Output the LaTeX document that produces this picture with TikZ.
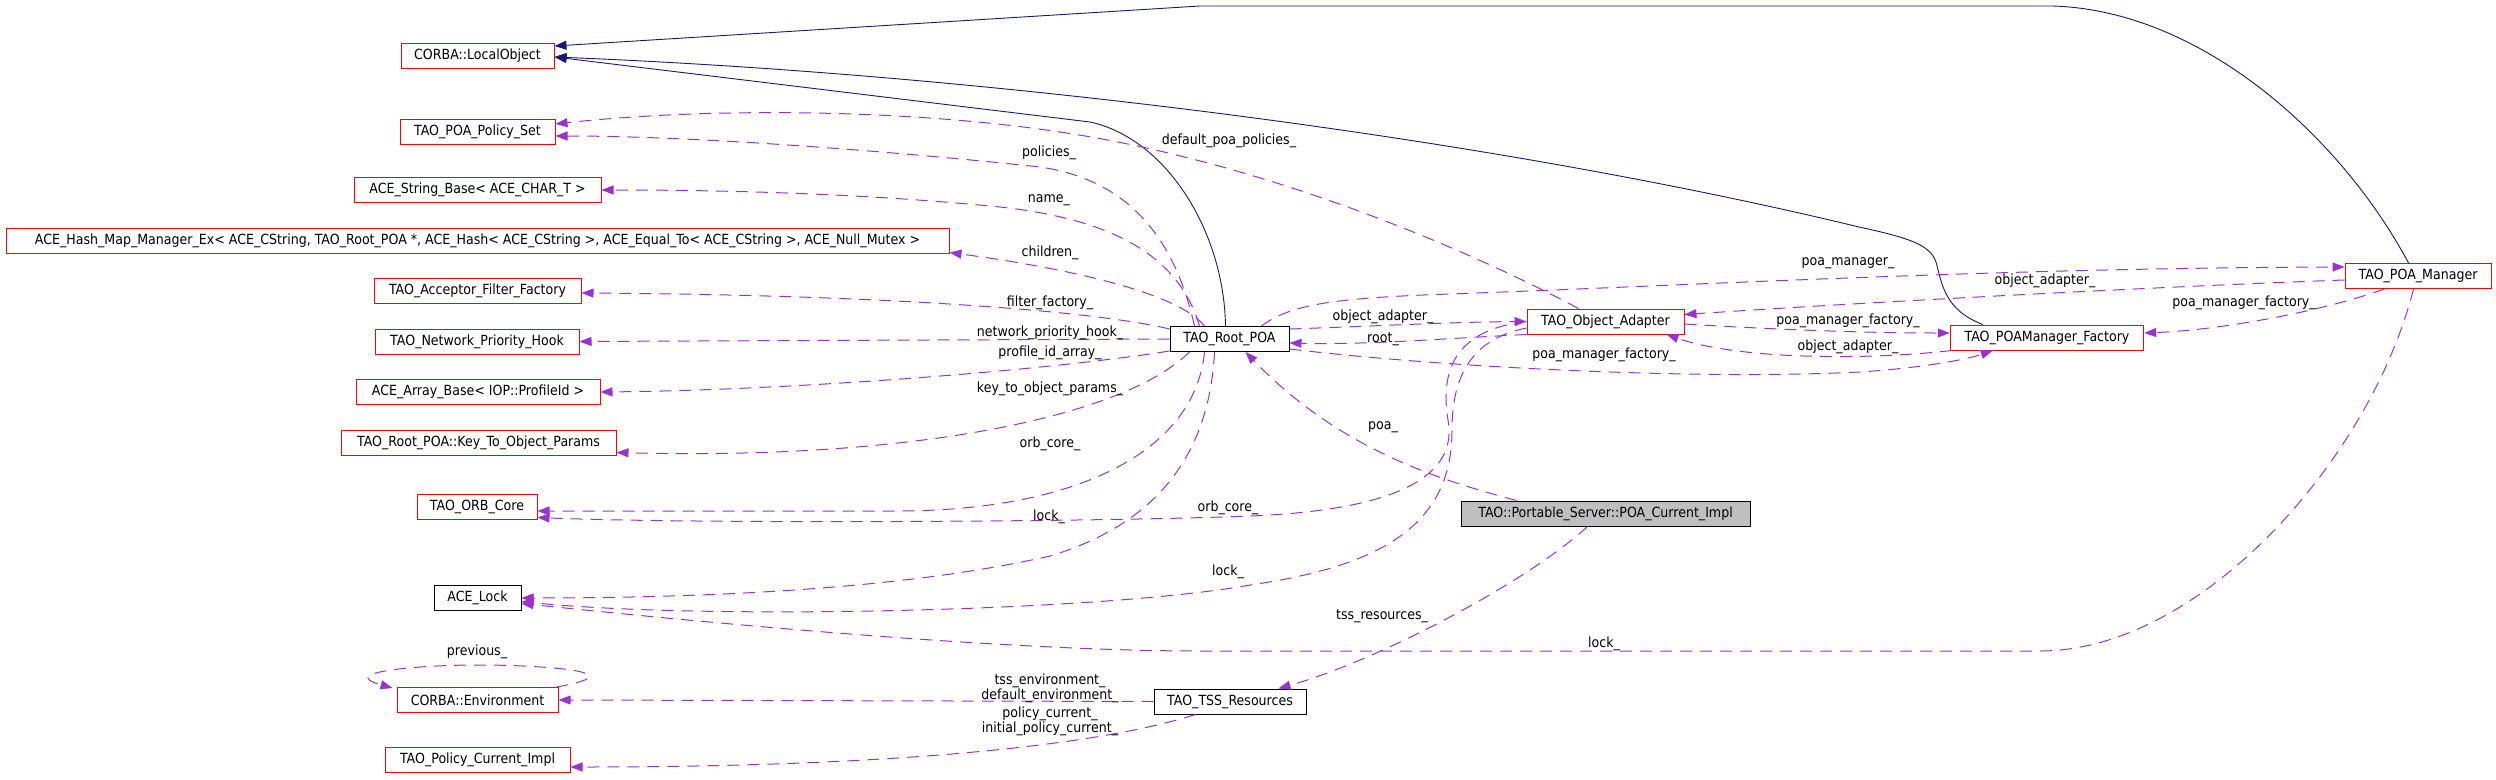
\documentclass[tikz,border=0pt]{standalone}
\usepackage{fontspec}
\setmainfont{DejaVu Sans}[FakeStretch=0.9]
\usepackage{tikz}
\usetikzlibrary{shapes,arrows,positioning,calc,arrows.meta}
\definecolor{usecol}{HTML}{9A32CD}
\definecolor{inhcol}{HTML}{191970}
\definecolor{curfill}{HTML}{BFBFBF}

\begin{document}
\begin{tikzpicture}[x=1pt, y=-1pt, font=\fontsize{14}{15}\selectfont,
    clsbox/.style={draw, line width=1pt, minimum height=25pt, inner xsep=3pt, inner ysep=0pt, minimum width=#1pt},
    cls/.style={clsbox=#1, draw=red},
    clsb/.style={clsbox=#1, draw=black},
    lbl/.style={inner sep=0pt, align=center},
    uses/.style={draw=usecol, line width=1pt, dash pattern=on 12pt off 8pt, -{Triangle[length=12pt,width=9pt]}},
    inh/.style={draw=inhcol, line width=0.9pt, -{Triangle[length=12pt,width=9pt]}}]
    \useasboundingbox (0,0) rectangle (2496,779);

    % left column
    \node [cls=153] (lobj) at (477.5,56) {CORBA::LocalObject};
    \node [cls=155] (pset) at (477.5,132) {TAO\_POA\_Policy\_Set};
    \node [cls=247] (sbase) at (477.5,190) {ACE\_String\_Base< ACE\_CHAR\_T >};
    \node [cls=943] (hmap) at (477.5,240.5) {ACE\_Hash\_Map\_Manager\_Ex< ACE\_CString, TAO\_Root\_POA *, ACE\_Hash< ACE\_CString >, ACE\_Equal\_To< ACE\_CString >, ACE\_Null\_Mutex >};
    \node [cls=207] (aff) at (477.5,290.5) {TAO\_Acceptor\_Filter\_Factory};
    \node [cls=204] (nph) at (477,341.5) {TAO\_Network\_Priority\_Hook};
    \node [cls=244] (abase) at (478,392) {ACE\_Array\_Base< IOP::ProfileId >};
    \node [cls=275] (ktop) at (478.5,442.5) {TAO\_Root\_POA::Key\_To\_Object\_Params};
    \node [cls=120] (orb) at (477,506.5) {TAO\_ORB\_Core};
    \node [clsb=87] (lock) at (477.5,597.5) {ACE\_Lock};
    \node [cls=161] (env) at (477.5,700) {CORBA::Environment};
    \node [cls=185] (pci) at (477.5,760) {TAO\_Policy\_Current\_Impl};

    % middle and right
    \node [clsb=119] (rpoa) at (1229.5,339) {TAO\_Root\_POA};
    \node [cls=157] (oad) at (1605.5,321.5) {TAO\_Object\_Adapter};
    \node [cls=193.5] (pmf) at (2047,337.5) {TAO\_POAManager\_Factory};
    \node [cls=146] (pm) at (2418,276) {TAO\_POA\_Manager};
    \node [clsb=289, fill=curfill] (cur) at (1605.5,513.5) {TAO::Portable\_Server::POA\_Current\_Impl};
    \node [clsb=152] (tss) at (1230,701.5) {TAO\_TSS\_Resources};

    % inheritance
    \draw [inh] ($(rpoa.north west)+(56,0)$) .. controls (1224,230) and (1165,138) .. (1090,122) -- ($(lobj.east)+(0,1)$);
    \draw [inh] ($(pmf.north west)+(33,0)$) .. controls (1945,310) and (1942,285) .. (1936,262) .. controls (1930,245) and (1910,238) .. (1859,227) .. controls (1500,140) and (1000,75) .. ($(lobj.east)+(0,1)$);
    \draw [inh] ($(pm.north west)+(64,0)$) .. controls (2340,135) and (2200,10) .. (2052,6) -- (1200,6) -- ($(lobj.north east)+(0,3)$);

    % members of TAO_Root_POA
    \draw [uses] ($(rpoa.north west)+(25,0)$) .. controls (1175,240) and (1130,180) .. (1040,167) .. controls (900,152) and (700,136) .. ($(pset.east)+(0,4)$);
    \draw [uses] ($(rpoa.north west)+(30,0)$) .. controls (1180,260) and (1120,220) .. (1000,207) .. controls (850,192) and (700,190) .. (sbase.east);
    \draw [uses] ($(rpoa.north west)+(35,0)$) .. controls (1180,295) and (1080,270) .. ($(hmap.south east)+(0,-1)$);
    \draw [uses] ($(rpoa.north west)+(0,3)$) .. controls (1100,312) and (900,295) .. ($(aff.east)+(0,2.5)$);
    \draw [uses] (rpoa.west) -- (nph.east);
    \draw [uses] ($(rpoa.south west)+(0,-1)$) .. controls (1050,370) and (800,390) .. (abase.east);
    \draw [uses] ($(rpoa.south west)+(20,0)$) .. controls (1120,420) and (900,460) .. ($(ktop.east)+(0,10)$);
    \draw [uses] ($(rpoa.south west)+(35,0)$) .. controls (1195,450) and (1080,510) .. (900,511) -- ($(orb.east)+(0,4.5)$);
    \draw [uses] ($(rpoa.south west)+(45,0)$) .. controls (1210,440) and (1170,520) .. (1050,556) .. controls (900,590) and (700,598) .. ($(lock.east)+(0,0.5)$);
    \draw [uses] ($(rpoa.north east)+(0,3)$) .. controls (1380,326) and (1450,322) .. (oad.west);
    \draw [uses] ($(rpoa.south east)+(0,-3)$) .. controls (1450,368) and (1700,380) .. (1860,372) .. controls (1920,368) and (1965,360) .. ($(pmf.south west)+(43,0)$);
    \draw [uses] ($(rpoa.north west)+(92,0)$) .. controls (1290,305) and (1330,298) .. (1450,294) .. controls (1700,285) and (2000,268) .. ($(pm.north west)+(0,4)$);

    % members of TAO_Object_Adapter
    \draw [uses] ($(oad.north west)+(52,0)$) .. controls (1450,240) and (1250,160) .. (1060,132) .. controls (900,108) and (700,108) .. ($(pset.east)+(0,-8)$);
    \draw [uses] (oad.south west) .. controls (1450,338) and (1370,345) .. ($(rpoa.east)+(0,4)$);
    \draw [uses] (oad.west) .. controls (1455,330) and (1440,370) .. (1448,420) .. controls (1458,475) and (1400,510) .. (1250,516) .. controls (1100,522) and (700,524) .. ($(orb.east)+(0,11)$);
    \draw [uses] ($(oad.west)+(0,6.5)$) .. controls (1465,340) and (1452,385) .. (1452,430) .. controls (1452,520) and (1390,565) .. (1250,585) .. controls (1100,612) and (700,620) .. ($(lock.east)+(0,4)$);
    \draw [uses] ($(oad.east)+(0,2.5)$) .. controls (1750,328) and (1850,333) .. ($(pmf.west)+(0,-4.5)$);

    % members of TAO_POA_Manager and TAO_POAManager_Factory
    \draw [uses] ($(pm.west)+(0,4)$) .. controls (2200,285) and (1900,300) .. ($(oad.north east)+(0,6)$);
    \draw [uses] ($(pm.south west)+(40,0)$) .. controls (2320,312) and (2220,330) .. ($(pmf.east)+(0,-4.5)$);
    \draw [uses] ($(pm.south west)+(69,0)$) .. controls (2370,460) and (2200,651) .. (2040,651) -- (1200,651) .. controls (1000,651) and (700,622) .. ($(lock.east)+(0,6)$);
    \draw [uses] ($(pmf.south west)+(2,0)$) .. controls (1870,360) and (1740,360) .. ($(oad.south east)+(-18,0)$);

    % POA_Current_Impl and TSS resources
    \draw [uses] ($(cur.north west)+(56,0)$) .. controls (1440,480) and (1340,450) .. ($(rpoa.south west)+(76,0)$);
    \draw [uses] ($(cur.south west)+(127,0)$) .. controls (1530,580) and (1380,660) .. ($(tss.north west)+(125,0)$);
    \draw [uses] (tss.west) -- (env.east);
    \draw [uses] ($(tss.south west)+(42,0)$) .. controls (1100,745) and (900,767) .. ($(pci.east)+(0,7)$);
    \draw [uses] ($(env.north east)+(-2,0)$) .. controls (640,672) and (545,665) .. (477,665) .. controls (420,665) and (335,672) .. ($(env.north west)+(-4,1)$);

    % edge labels
    \node [lbl] (lpolicies) at (1049,153) {policies\_};
    \node [lbl] (ldefpol) at (1229,141) {default\_poa\_policies\_};
    \node [lbl] (lname) at (1049,200) {name\_};
    \node [lbl] (lchildren) at (1050,253) {children\_};
    \node [lbl] (lfilter) at (1050,303) {filter\_factory\_};
    \node [lbl] (lhook) at (1050,333) {network\_priority\_hook\_};
    \node [lbl] (lprofile) at (1050,353) {profile\_id\_array\_};
    \node [lbl] (lkey) at (1050,389) {key\_to\_object\_params\_};
    \node [lbl] (lorbr) at (1050,444) {orb\_core\_};
    \node [lbl] (llockr) at (1049,517) {lock\_};
    \node [lbl] (lorbo) at (1228,508) {orb\_core\_};
    \node [lbl] (llocko) at (1228,572) {lock\_};
    \node [lbl] (llockm) at (1604,644) {lock\_};
    \node [lbl] (loar) at (1383,317) {object\_adapter\_};
    \node [lbl] (lroot) at (1383,339) {root\_};
    \node [lbl] (lpmfr) at (1604,355) {poa\_manager\_factory\_};
    \node [lbl] (lpm) at (1848,263) {poa\_manager\_};
    \node [lbl] (loam) at (2045,281) {object\_adapter\_};
    \node [lbl] (lpmfm) at (2244,303) {poa\_manager\_factory\_};
    \node [lbl] (lpmfo) at (1848,321) {poa\_manager\_factory\_};
    \node [lbl] (loaf) at (1848,347) {object\_adapter\_};
    \node [lbl] (lpoa) at (1383,427) {poa\_};
    \node [lbl] (ltss) at (1382,616) {tss\_resources\_};
    \node [lbl] (lenv) at (1050,688) {tss\_environment\_\\default\_environment\_};
    \node [lbl] (lpolcur) at (1050,721) {policy\_current\_\\initial\_policy\_current\_};
    \node [lbl] (lprev) at (477,652) {previous\_};
\end{tikzpicture}
\end{document}
